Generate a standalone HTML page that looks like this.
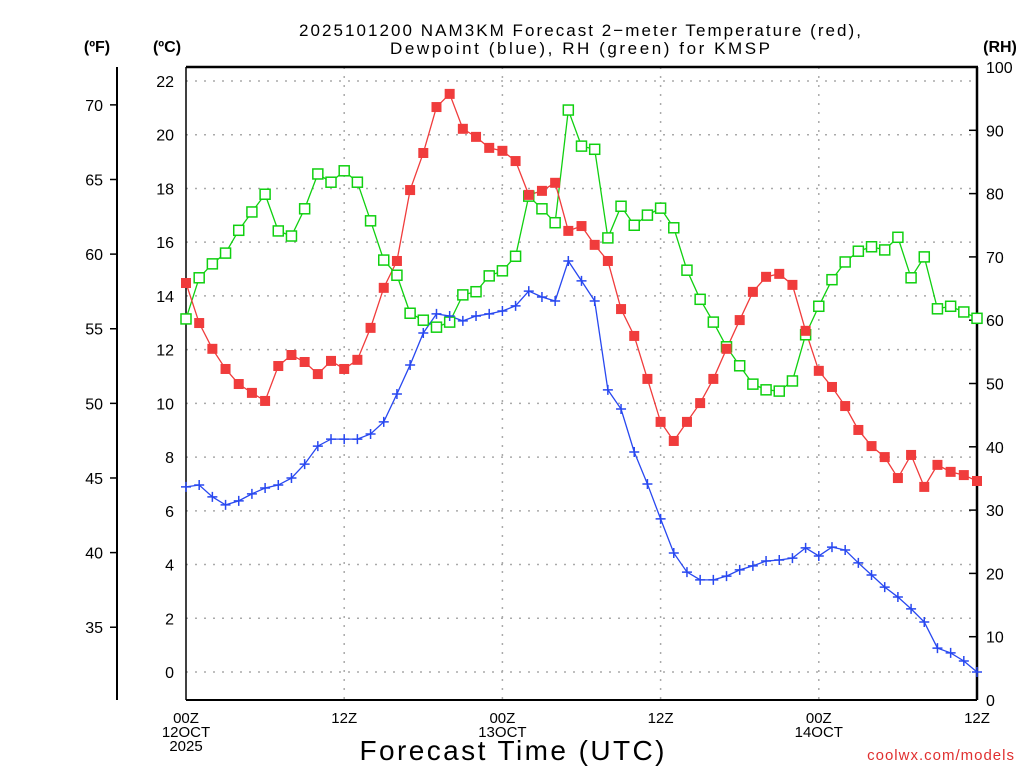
<!DOCTYPE html>
<html><head><meta charset="utf-8"><style>
html,body{margin:0;padding:0;background:#fff;}
svg{display:block;font-family:"Liberation Sans",sans-serif;}
</style></head><body>
<svg id="chart" width="1024" height="768" viewBox="0 0 1024 768" xmlns="http://www.w3.org/2000/svg">
<text x="580" y="36" font-size="17" text-anchor="middle" textLength="562" lengthAdjust="spacing">2025101200 NAM3KM Forecast 2−meter Temperature (red),</text>
<text x="580" y="54" font-size="17" text-anchor="middle" textLength="380" lengthAdjust="spacing">Dewpoint (blue), RH (green) for KMSP</text>
<text x="97" y="52" font-size="16" font-weight="bold" text-anchor="middle">(ºF)</text>
<text x="167" y="52" font-size="16" font-weight="bold" text-anchor="middle">(ºC)</text>
<text x="1000" y="52" font-size="16" font-weight="bold" text-anchor="middle">(RH)</text>
<g id="grid"></g><g id="axes"></g><g id="series"></g>
<text x="512" y="760" font-size="28" text-anchor="middle" textLength="305" lengthAdjust="spacing">Forecast Time (UTC)</text>
<text x="1015" y="760" font-size="15" fill="#e03030" text-anchor="end" letter-spacing="1">coolwx.com/models</text>
</svg>
<script>
const hours = Array.from({length:61},(_,i)=>i);
const tempC = [14.48,12.99,12.03,11.28,10.72,10.39,10.09,11.39,11.80,11.54,11.09,11.58,11.28,11.62,12.81,14.30,15.30,17.94,19.32,21.03,21.52,20.22,19.92,19.51,19.40,19.02,17.76,17.91,18.21,16.42,16.60,15.90,15.30,13.51,12.51,10.91,9.31,8.60,9.31,10.01,10.91,12.03,13.10,14.15,14.71,14.82,14.41,12.70,11.21,10.61,9.90,9.01,8.41,8.00,7.22,8.08,6.89,7.71,7.45,7.33,7.11];
const dewC = [6.89,6.96,6.52,6.22,6.37,6.63,6.85,6.96,7.22,7.74,8.41,8.67,8.67,8.67,8.86,9.31,10.35,11.43,12.62,13.33,13.25,13.07,13.25,13.33,13.44,13.63,14.18,13.96,13.81,15.30,14.56,13.81,10.50,9.79,8.19,7.00,5.70,4.43,3.72,3.43,3.43,3.57,3.80,3.95,4.13,4.17,4.24,4.62,4.32,4.65,4.54,4.06,3.61,3.16,2.79,2.35,1.86,0.89,0.71,0.41,0.0];
const rhPct = [60.2,66.7,68.9,70.6,74.2,77.1,79.9,74.1,73.3,77.6,83.1,81.8,83.6,81.8,75.7,69.5,67.1,61.1,60.0,58.9,59.7,64.0,64.5,67.0,67.8,70.1,79.6,77.6,75.4,93.2,87.5,87.0,73.0,78.0,75.0,76.6,77.7,74.6,67.9,63.3,59.7,55.8,52.8,49.9,49.0,48.8,50.4,57.7,62.2,66.4,69.2,70.9,71.6,71.1,73.1,66.7,70.0,61.8,62.2,61.3,60.3];
const cTicks = [0,2,4,6,8,10,12,14,16,18,20,22];
const fTicks = [35,40,45,50,55,60,65,70];
const rhTicks = [0,10,20,30,40,50,60,70,80,90,100];
const xTickHours = [0,12,24,36,48,60];
const xTickLabels = [["00Z","12OCT","2025"],["12Z"],["00Z","13OCT"],["12Z"],["00Z","14OCT"],["12Z"]];

const L=186,R=977,T=67,B=700;
const xS=h=>L+(R-L)*h/60;
const yC=c=>672-c*26.864;
const yRH=r=>B-(B-T)*r/100;
const yF=f=>yC((f-32)/1.8);
const NS="http://www.w3.org/2000/svg";
function mk(tag,attrs,parent,text){const e=document.createElementNS(NS,tag);for(const k in attrs)e.setAttribute(k,attrs[k]);if(text!==undefined)e.textContent=text;parent.appendChild(e);return e;}
const grid=document.getElementById('grid'),axes=document.getElementById('axes'),ser=document.getElementById('series');

cTicks.forEach(c=>{
  const y=yC(c);
  const g=mk('line',{x1:L,x2:R,y1:y,y2:y,stroke:'#aaa','stroke-width':1.5,'stroke-dasharray':'2,7'},grid);
  
  
  const t=mk('text',{x:174,y:y+6,'font-size':16,'text-anchor':'end'},axes,String(c));
  
  
});
xTickHours.forEach((h,i)=>{
  const x=xS(h);
  if(h>0&&h<60){const g=mk('line',{x1:x,x2:x,y1:T,y2:B,stroke:'#aaa','stroke-width':1.5,'stroke-dasharray':'2,7'},grid);
  
  }
  xTickLabels[i].forEach((s,j)=>{
    const t=mk('text',{x:x,y:723+j*14,'font-size':15,'text-anchor':'middle'},axes,s);
    
    
  });
});
fTicks.forEach(f=>{
  const y=yF(f);
  mk('line',{x1:110,x2:117,y1:y,y2:y,stroke:'#000','stroke-width':1.5},axes);
  const t=mk('text',{x:103,y:y+6,'font-size':16,'text-anchor':'end'},axes,String(f));
  
  
});
rhTicks.forEach(r=>{
  const y=yRH(r);
  mk('line',{x1:R-8,x2:R,y1:y,y2:y,stroke:'#000','stroke-width':1.5},axes);
  const t=mk('text',{x:986,y:y+6,'font-size':16,'text-anchor':'start'},axes,String(r));
  
  
});
mk('line',{x1:117,x2:117,y1:T,y2:B,stroke:'#000','stroke-width':2},axes);
mk('line',{x1:L,x2:L,y1:T,y2:B,stroke:'#000','stroke-width':1.5},axes);
mk('line',{x1:L,x2:R+1,y1:T,y2:T,stroke:'#000','stroke-width':2.5},axes);
mk('line',{x1:R,x2:R,y1:T,y2:B,stroke:'#000','stroke-width':2.5},axes);
mk('line',{x1:L,x2:R,y1:B,y2:B,stroke:'#000','stroke-width':2},axes);

function line(vals,yf,color,name){
  const p=mk('polyline',{points:vals.map((v,i)=>xS(hours[i])+','+yf(v)).join(' '),fill:'none',stroke:color,'stroke-width':1.3},ser);
  
  
}
line(rhPct,yRH,'#10d010','rh-line');
line(tempC,yC,'#f03c3c','temperature-line');
line(dewC,yC,'#2848f0','dewpoint-line');
rhPct.forEach((v,i)=>{const m=mk('rect',{x:xS(hours[i])-5,y:yRH(v)-5,width:10,height:10,fill:'#fff',stroke:'#10d010','stroke-width':1.5},ser);
  
  });
tempC.forEach((v,i)=>{const m=mk('rect',{x:xS(hours[i])-5,y:yC(v)-5,width:10,height:10,fill:'#f03c3c'},ser);
  
  });
dewC.forEach((v,i)=>{const x=xS(hours[i]),y=yC(v);
  const m=mk('path',{d:`M${x-5},${y}H${x+5}M${x},${y-5}V${y+5}`,stroke:'#2848f0','stroke-width':1.5},ser);
  
  });
</script>
</body></html>
